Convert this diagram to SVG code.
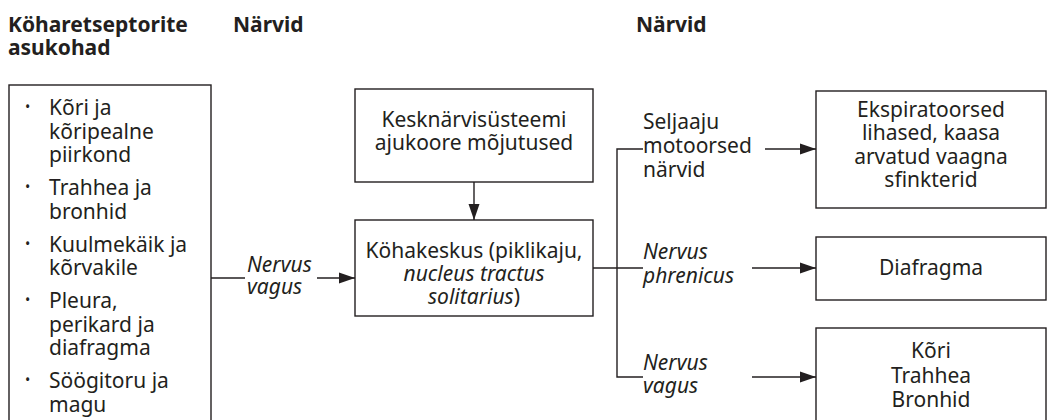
<svg xmlns="http://www.w3.org/2000/svg" width="1047" height="420" viewBox="0 0 1047 420">
<style>
text{font-family:"Noto Sans","Open Sans","Liberation Sans",sans-serif;fill:#231f20;font-size:21px}
.h{font-weight:bold;font-size:21px}
.i{font-style:italic}
.c{text-anchor:middle}
.b{fill:#fff;stroke:#231f20;stroke-width:1.4}
.l{fill:none;stroke:#231f20;stroke-width:1.4}
.bul{font-size:14px}
</style>
<defs>
<marker id="ah" markerUnits="userSpaceOnUse" markerWidth="17" markerHeight="12" refX="16" refY="6" orient="auto">
<path d="M0,0.5 L16,6 L0,11.5 Z" fill="#231f20"/>
</marker>
</defs>
<g id="headers">
<text class="h" x="8" y="32">Köharetseptorite<tspan x="8" dy="23">asukohad</tspan></text>
<text class="h" x="233" y="32">Närvid</text>
<text class="h" x="636" y="32">Närvid</text>
</g>
<g id="receptors">
<rect class="b" x="9" y="85" width="202" height="345"/>
<text class="bul" x="25" y="112">•</text>
<text x="49" y="115">Kõri ja<tspan x="49" dy="23.5">kõripealne</tspan><tspan x="49" dy="23.5">piirkond</tspan></text>
<text class="bul" x="25" y="192">•</text>
<text x="49" y="195">Trahhea ja<tspan x="49" dy="23.5">bronhid</tspan></text>
<text class="bul" x="25" y="248.5">•</text>
<text x="49" y="251.5">Kuulmekäik ja<tspan x="49" dy="23.5">kõrvakile</tspan></text>
<text class="bul" x="25" y="305">•</text>
<text x="49" y="308">Pleura,<tspan x="49" dy="23.5">perikard ja</tspan><tspan x="49" dy="23.5">diafragma</tspan></text>
<text class="bul" x="25" y="385">•</text>
<text x="49" y="388">Söögitoru ja<tspan x="49" dy="23.5">magu</tspan></text>
</g>
<g id="cns">
<rect class="b" x="355" y="89" width="238" height="93"/>
<text class="c" x="474" y="126.5">Kesknärvisüsteemi<tspan x="474" dy="23.5">ajukoore mõjutused</tspan></text>
</g>
<g id="center">
<rect class="b" x="355" y="220" width="238" height="96"/>
<text class="c" x="474" y="258">Köhakeskus (piklikaju,<tspan class="i" x="474" dy="23">nucleus tractus</tspan><tspan x="474" dy="23"><tspan class="i">solitarius</tspan>)</tspan></text>
</g>
<g id="expir">
<rect class="b" x="816" y="91" width="230" height="117"/>
<text class="c" x="931" y="117">Ekspiratoorsed<tspan x="931" dy="23.3">lihased, kaasa</tspan><tspan x="931" dy="23.3">arvatud vaagna</tspan><tspan x="931" dy="23.3">sfinkterid</tspan></text>
</g>
<g id="diafragma">
<rect class="b" x="816" y="237" width="230" height="63"/>
<text class="c" x="931" y="275">Diafragma</text>
</g>
<g id="airways">
<rect class="b" x="816" y="328" width="230" height="110"/>
<text class="c" x="931" y="358">Kõri<tspan x="931" dy="24.5">Trahhea</tspan><tspan x="931" dy="24.5">Bronhid</tspan></text>
</g>
<g id="connectors">
<line class="l" x1="474" y1="182" x2="474" y2="220" marker-end="url(#ah)"/>
<line class="l" x1="211" y1="278" x2="245" y2="278"/>
<line class="l" x1="317" y1="278" x2="355" y2="278" marker-end="url(#ah)"/>
<line class="l" x1="593" y1="268" x2="643" y2="268"/>
<polyline class="l" points="643,149 617,149 617,377 643,377"/>
<line class="l" x1="765" y1="149" x2="816" y2="149" marker-end="url(#ah)"/>
<line class="l" x1="752" y1="268" x2="816" y2="268" marker-end="url(#ah)"/>
<line class="l" x1="752" y1="377" x2="816" y2="377" marker-end="url(#ah)"/>
</g>
<g id="labels">
<text class="i" x="247" y="272">Nervus<tspan x="247" dy="22">vagus</tspan></text>
<text x="643" y="129">Seljaaju<tspan x="643" dy="24">motoorsed</tspan><tspan x="643" dy="23.5">närvid</tspan></text>
<text class="i" x="643" y="259">Nervus<tspan x="643" dy="23.5">phrenicus</tspan></text>
<text class="i" x="643" y="370">Nervus<tspan x="643" dy="23">vagus</tspan></text>
</g>
</svg>
